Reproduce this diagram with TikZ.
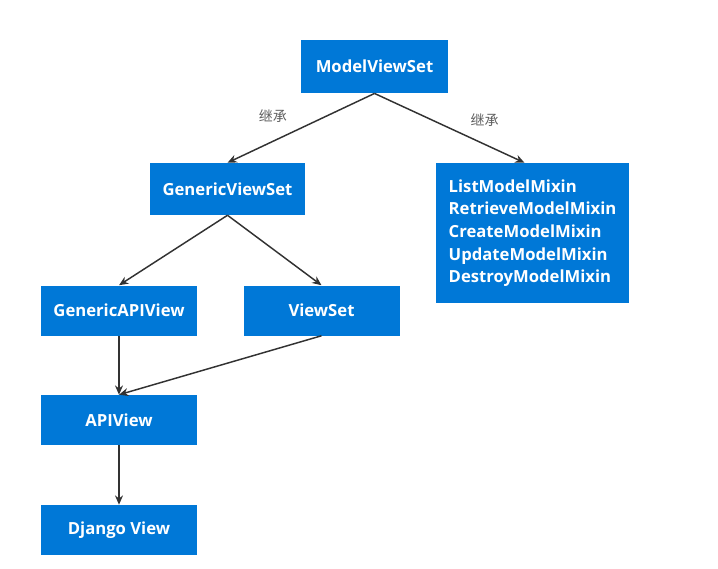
\documentclass[tikz,border=0pt]{standalone}
\usepackage{fontspec}
\setmainfont{Open Sans}
\newfontfamily\cjk{Noto Sans CJK SC}
\definecolor{boxblue}{RGB}{0,120,215}
\definecolor{arrowgray}{RGB}{50,50,50}
\definecolor{labelgray}{RGB}{95,95,95}
\usepackage{tikz}
\usetikzlibrary{arrows.meta,positioning,calc}

\tikzset{
  cls/.style={fill=boxblue,text=white,font=\fontsize{12.5}{16}\selectfont\bfseries,
    minimum width=117pt,minimum height=37.5pt,inner sep=0pt},
  inherit/.style={-{Stealth[length=7pt,width=6pt]},arrowgray,line width=1.1pt},
  lbl/.style={font=\cjk\fontsize{10.5}{12}\selectfont,text=labelgray,inner sep=1pt}
}

\begin{document}
\begin{tikzpicture}[x=0.75pt,y=-0.75pt]
        \useasboundingbox (0,0) rectangle (718,568);
        % top of the hierarchy
        \node[cls,minimum width=110pt,minimum height=40pt] (mvs) at (374.5,66.5) {ModelViewSet};
        \node[cls,minimum width=116pt,minimum height=39pt] (gvs) at (227.5,189) {GenericViewSet};
        \node[cls,minimum width=145pt,minimum height=105pt,align=left,
              font=\fontsize{12.5}{17}\selectfont\bfseries] (mixin) at (532.5,233)
          {ListModelMixin\\RetrieveModelMixin\\CreateModelMixin\\UpdateModelMixin\\DestroyModelMixin};
        % middle row
        \node[cls] (gav) at (119,310.5) {GenericAPIView};
        \node[cls] (vs) at (321.5,310.5) {ViewSet};
        % bottom
        \node[cls] (apiv) at (119,420) {APIView};
        \node[cls] (dj) at (119,530) {Django View};
        % connectors
        \draw[inherit] (mvs.south) -- (gvs.north) node[lbl,pos=0.55,above left=5.5pt and 3.5pt] (l1) {继承};
        \draw[inherit] (mvs.south) -- ([xshift=-6pt]mixin.north) node[lbl,pos=0.6,above right=4.5pt and 3pt] (l2) {继承};
        \draw[inherit] (gvs.south) -- (gav.north);
        \draw[inherit] (gvs.south) -- (vs.north);
        \draw[inherit] (gav.south) -- (apiv.north);
        \draw[inherit] (vs.south) -- (apiv.north);
        \draw[inherit] (apiv.south) -- (dj.north);
      \end{tikzpicture}
\end{document}
